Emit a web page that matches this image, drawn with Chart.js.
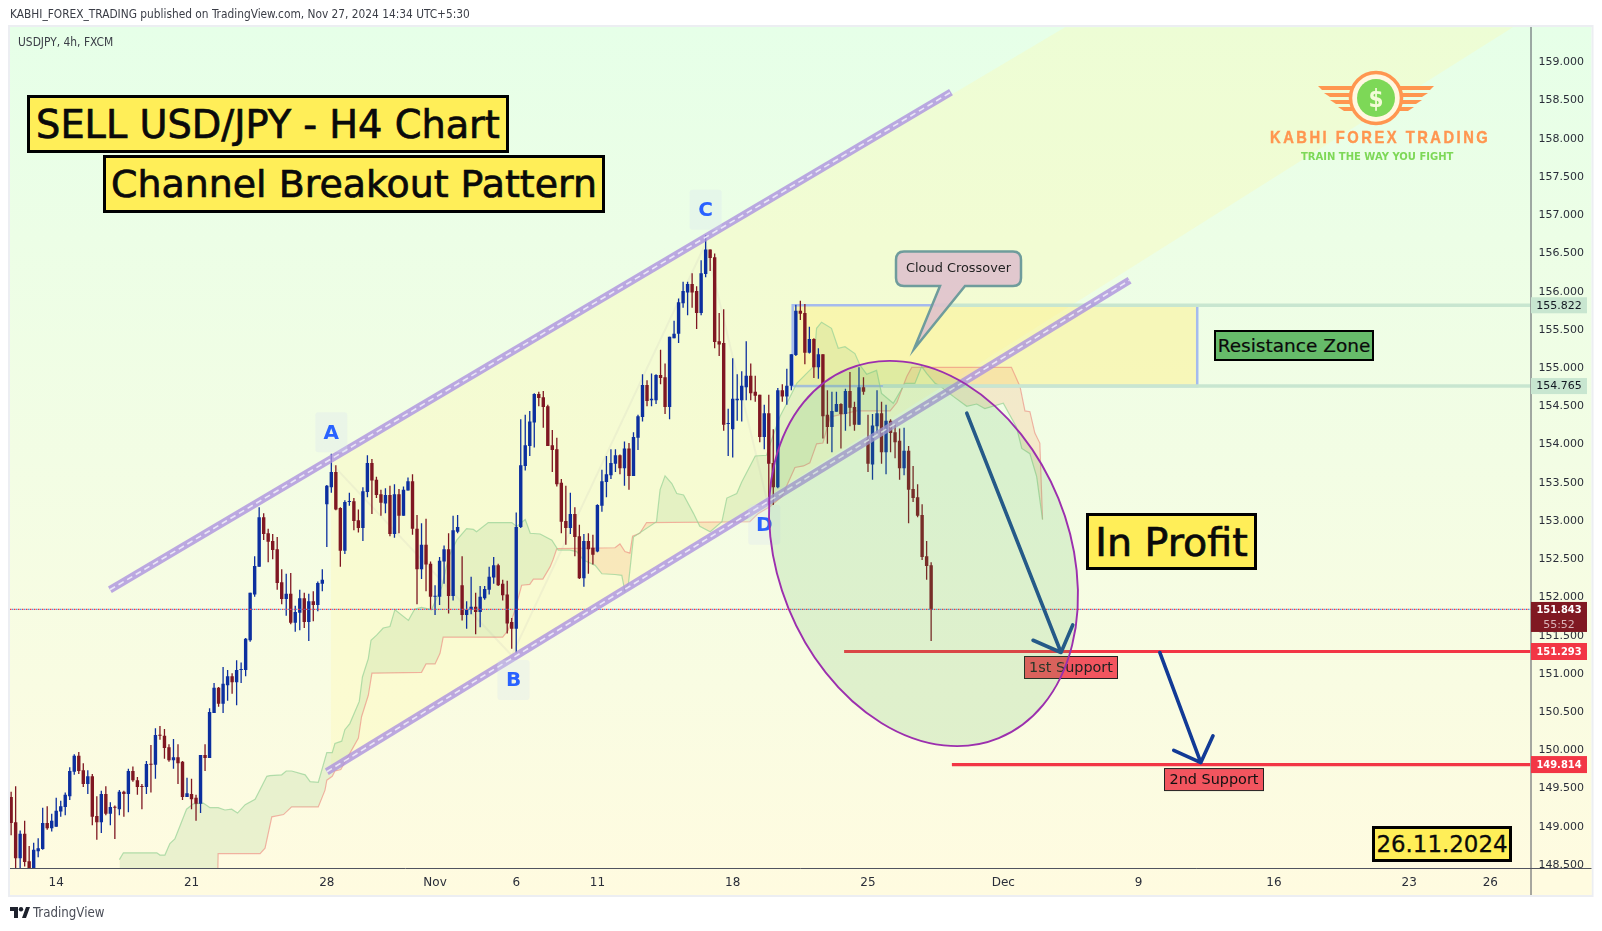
<!DOCTYPE html>
<html>
<head>
<meta charset="utf-8">
<title>USDJPY 4h</title>
<script src="https://cdn.jsdelivr.net/npm/chart.js@4"></script>
<style>
    html, body { margin: 0; padding: 0; background: #fff; width: 1602px; height: 931px; overflow: hidden; }
    body { font-family: "DejaVu Sans", sans-serif; font-stretch: condensed; color: #131722; }
    canvas { position: absolute; left: 0; top: 0; }
    .txt { position: absolute; white-space: nowrap; }
    .box { position: absolute; box-sizing: border-box; display: flex; align-items: center; justify-content: center; white-space: nowrap; color: #0a0a0a; background: #ffee58; border: 3.5px solid #000; font-stretch: normal; -webkit-text-stroke: .7px #0a0a0a; }
    svg { position: absolute; }
</style>
</head>
<body>
<canvas id="chart" width="1602" height="931"></canvas>

<div class="txt" style="left:10px;top:7px;font-size:11.8px;color:#3a3d46">KABHI_FOREX_TRADING published on TradingView.com, Nov 27, 2024 14:34 UTC+5:30</div>
<div class="txt" style="left:18px;top:35px;font-size:11.9px;color:#3a3d46">USDJPY, 4h, FXCM</div>

<div class="box" style="left:27px;top:95px;width:482px;height:58px;font-size:38.3px">SELL USD/JPY - H4 Chart</div>
<div class="box" style="left:103px;top:155px;width:502px;height:58px;font-size:37.9px">Channel Breakout Pattern</div>
<div class="box" style="left:1086px;top:513px;width:171px;height:57px;font-size:39.6px">In Profit</div>
<div class="box" style="left:1372px;top:826px;width:140px;height:36px;font-size:22.9px;border-width:3px;-webkit-text-stroke:.3px #0a0a0a">26.11.2024</div>
<div class="box" style="left:1214px;top:330px;width:160px;height:31px;font-size:18.5px;background:#66bb6a;border-width:2.5px;-webkit-text-stroke:.2px #0a0a0a">Resistance Zone</div>

<svg style="left:1300px;top:66px" width="160" height="66" viewBox="0 0 160 66">
    <g fill="#ff9650">
        <polygon points="18,20 52,20 52,24 22,24"/>
        <polygon points="24,27 52,27 52,31 30,31"/>
        <polygon points="30,34 54,34 54,38 36,38"/>
        <polygon points="38,41 58,41 58,45 44,45"/>
        <polygon points="134,20 100,20 100,24 130,24"/>
        <polygon points="128,27 100,27 100,31 122,31"/>
        <polygon points="122,34 98,34 98,38 116,38"/>
        <polygon points="114,41 94,41 94,45 108,45"/>
    </g>
    <circle cx="76" cy="32" r="25.5" fill="#fff8e0" stroke="#ff9650" stroke-width="3.5"/>
    <circle cx="76" cy="32" r="19" fill="#7dd857"/>
    <text x="76" y="41" text-anchor="middle" font-family="DejaVu Sans" font-weight="bold" font-size="24" fill="#f3fbd8">$</text>
</svg>
<div class="txt" style="left:1270px;top:128px;font-size:17px;font-weight:bold;font-family:'Liberation Sans';letter-spacing:2.9px;transform:scaleX(.866);transform-origin:left center;-webkit-text-stroke:.4px #ff9650;color:#ff9650">KABHI FOREX TRADING</div>
<div class="txt" style="left:1301px;top:151px;font-size:10px;font-weight:bold;font-family:'DejaVu Sans';font-stretch:normal;letter-spacing:0;color:#7dd857">TRAIN THE WAY YOU FIGHT</div>

<svg style="left:10px;top:906px" width="20" height="14" viewBox="0 0 20 14">
    <path d="M0 1h8v11H4V5H0z M16 1h4l-4 11h-4z" fill="#1e222d"/><circle cx="11" cy="3.2" r="2.2" fill="#1e222d"/>
</svg>
<div class="txt" style="left:33px;top:905px;font-size:13.2px;color:#4a4d57">TradingView</div>

<script>
const opens = [
    149.39,149.06,148.59,148.91,148.55,148.40,148.68,148.71,149.05,148.98,
    149.00,149.20,149.26,149.40,149.72,149.93,149.74,149.56,149.66,149.14,
    149.06,149.43,149.17,149.26,149.23,149.46,149.43,149.73,149.61,149.53,
    149.52,149.82,149.81,150.20,150.19,150.04,149.87,149.91,149.85,149.39,
    149.43,149.38,149.30,149.94,149.90,150.49,150.82,150.61,150.85,150.97,
    150.89,151.05,151.05,151.44,152.04,152.40,153.05,152.84,152.74,152.63,
    152.20,151.98,152.05,151.67,151.80,151.99,151.68,151.95,151.90,152.18,
    153.22,153.44,153.64,153.17,152.61,153.25,153.26,153.01,152.91,153.38,
    153.76,153.54,153.35,153.23,153.34,152.83,153.35,153.07,153.40,153.52,
    152.90,152.37,152.69,152.44,152.01,152.01,152.47,152.63,152.02,152.86,
    152.16,151.77,151.84,151.88,151.81,151.99,152.10,152.26,152.42,152.18,
    152.04,151.68,151.59,152.92,153.72,153.98,154.29,154.66,154.62,154.50,
    153.99,153.94,153.50,153.00,152.91,153.09,152.80,152.25,152.74,152.65,
    152.60,153.20,153.51,153.60,153.75,153.86,153.69,153.95,153.59,154.09,
    154.36,154.78,154.58,154.58,154.91,154.88,154.49,155.39,155.45,155.85,
    155.99,156.10,156.01,155.72,156.23,156.55,156.45,155.35,155.33,154.27,
    154.20,154.58,154.58,154.75,154.90,154.69,154.65,154.10,154.41,153.76,
    153.44,154.71,154.63,154.77,155.17,155.75,155.72,155.20,155.38,155.01,
    155.18,154.39,154.23,154.43,154.53,154.40,154.70,154.49,154.26,154.75,
    154.07,153.74,154.24,154.41,153.90,154.31,154.16,154.05,153.69,153.92,
    153.42,153.31,153.08,152.54,152.42
];
const highs = [
    149.46,149.53,148.95,149.08,148.75,148.79,148.85,149.25,149.27,149.17,
    149.38,149.34,149.45,149.78,149.95,149.98,149.83,149.74,149.69,149.40,
    149.47,149.53,149.32,149.28,149.48,149.47,149.76,149.79,149.65,149.56,
    149.86,150.07,150.29,150.32,150.28,150.08,150.15,150.08,149.86,149.64,
    149.63,149.42,149.94,150.08,150.55,150.88,150.83,151.09,151.05,151.01,
    151.18,151.15,151.47,152.06,152.54,153.18,153.10,152.90,152.83,152.79,
    152.37,152.31,152.32,151.89,152.10,152.06,152.05,152.08,152.21,152.37,
    153.47,153.88,153.73,153.18,153.27,153.37,153.30,153.15,153.44,153.86,
    153.81,153.58,153.41,153.43,153.46,153.48,153.42,153.45,153.57,153.61,
    153.08,152.97,153.03,152.47,152.16,152.53,152.68,152.84,153.07,153.08,
    152.54,151.95,152.27,152.06,152.15,152.15,152.40,152.53,152.44,152.23,
    152.22,151.73,153.11,154.33,154.39,154.44,154.67,154.69,154.70,154.52,
    154.19,154.09,153.55,153.46,153.37,153.18,152.95,152.83,152.84,152.82,
    153.22,153.67,153.85,153.94,153.94,153.87,154.04,154.02,154.16,154.39,
    154.92,154.84,154.93,154.92,155.24,155.06,155.41,155.62,155.91,156.13,
    156.13,156.24,156.07,156.41,156.74,156.55,156.50,155.72,155.77,154.47,
    155.13,154.92,154.96,155.35,155.06,154.90,154.65,154.52,154.65,154.20,
    154.74,154.79,154.99,155.18,155.83,155.88,155.84,155.54,155.39,155.26,
    155.18,154.71,154.69,154.69,154.54,154.73,154.95,154.56,155.01,154.88,
    154.39,154.40,154.71,154.56,154.52,154.33,154.26,154.21,154.22,153.98,
    153.72,153.48,153.22,152.74,152.46
];
const lows = [
    148.89,148.40,148.46,148.48,148.38,148.38,148.60,148.70,148.96,148.94,
    149.00,149.13,149.15,149.35,149.68,149.69,149.52,149.43,149.02,148.83,
    148.92,149.15,149.02,148.84,149.15,149.13,149.19,149.59,149.42,149.23,
    149.43,149.45,149.63,150.14,149.89,149.85,149.76,149.56,149.35,149.39,
    149.23,149.08,149.18,149.73,149.90,150.49,150.57,150.49,150.65,150.74,
    150.59,150.88,150.97,151.42,152.01,152.40,152.75,152.46,152.50,152.10,
    151.91,151.76,151.65,151.55,151.57,151.60,151.43,151.69,151.82,152.08,
    152.66,153.37,153.14,152.40,152.57,153.20,152.88,152.85,152.74,153.31,
    153.09,153.30,153.07,153.10,152.80,152.78,152.84,153.07,153.40,152.82,
    151.91,152.24,152.08,151.84,151.77,151.90,152.18,151.79,151.96,152.84,
    151.70,151.59,151.78,151.52,151.61,151.97,152.04,152.18,152.15,151.96,
    151.53,151.33,151.28,152.91,153.66,153.85,153.96,154.50,154.22,153.98,
    153.64,153.45,152.84,152.69,152.83,152.54,152.24,152.14,152.31,152.43,
    152.59,153.12,153.31,153.55,153.64,153.61,153.46,153.41,153.59,153.93,
    154.30,154.50,154.50,154.53,154.79,154.40,154.33,155.39,155.33,155.79,
    155.69,155.79,155.51,155.69,156.19,156.27,155.26,155.16,154.18,153.85,
    153.83,154.31,154.30,154.58,154.58,154.56,154.03,153.94,153.21,153.21,
    153.43,154.56,154.52,154.71,155.16,155.63,155.05,155.19,154.87,154.86,
    154.08,154.01,153.90,154.43,153.95,154.18,154.24,154.18,154.26,154.65,
    153.64,153.54,154.15,153.75,153.61,153.90,153.82,153.54,153.60,152.97,
    153.25,153.05,152.49,152.23,151.43
];
const closes = [
    149.05,148.59,148.91,148.54,148.40,148.70,148.72,149.05,148.98,149.08,
    149.21,149.27,149.42,149.73,149.93,149.73,149.56,149.66,149.13,149.06,
    149.43,149.17,149.26,149.25,149.46,149.43,149.73,149.61,149.52,149.52,
    149.82,149.81,150.20,150.19,150.03,149.87,149.91,149.83,149.39,149.44,
    149.36,149.30,149.94,149.90,150.50,150.82,150.61,150.87,150.97,150.89,
    151.05,151.06,151.46,152.06,152.41,153.05,152.83,152.73,152.62,152.19,
    151.98,152.05,151.67,151.81,151.99,151.68,151.95,151.90,152.19,152.23,
    153.46,153.64,153.15,152.61,153.25,153.26,153.00,152.91,153.39,153.76,
    153.53,153.34,153.24,153.34,152.83,153.35,153.07,153.41,153.52,152.90,
    152.37,152.69,152.43,152.01,152.02,152.48,152.63,152.02,152.88,152.92,
    151.77,151.84,151.88,151.81,152.01,152.11,152.27,152.42,152.16,152.03,
    151.66,151.59,152.92,153.73,153.99,154.30,154.66,154.61,154.49,153.98,
    153.93,153.48,152.99,152.91,153.09,152.79,152.25,152.74,152.63,152.56,
    153.21,153.52,153.61,153.76,153.86,153.69,153.95,153.59,154.10,154.37,
    154.78,154.57,154.60,154.91,154.87,154.49,155.41,155.45,155.86,156.01,
    156.10,155.99,155.72,156.24,156.55,156.44,155.34,155.31,154.26,154.28,
    154.60,154.60,154.77,154.90,154.67,154.64,154.10,154.41,153.75,153.44,
    154.71,154.63,154.77,155.18,155.75,155.71,155.20,155.38,155.01,155.18,
    154.37,154.23,154.44,154.53,154.40,154.70,154.48,154.26,154.75,154.69,
    153.75,154.25,154.41,153.90,154.31,154.15,154.03,153.69,153.92,153.41,
    153.30,153.07,152.53,152.41,151.84
];

// ichimoku cloud edges, [bar, price]
const spanA = [
    [24,148.57],[24.9,148.66],[32.3,148.66],[33,148.63],[34.1,148.63],[35.2,148.78],[36.3,148.84],[37.5,149.02],
    [38.9,149.23],[40.4,149.30],[42.6,149.31],[44.1,149.25],[45.9,149.25],[47.4,149.22],[48.9,149.23],[50.2,149.18],
    [51.9,149.29],[54.1,149.36],[56.7,149.66],[57.4,149.67],[60,149.68],[61,149.73],[62.2,149.73],[65.2,149.68],
    [66.3,149.59],[68.1,149.58],[70,149.97],[71.2,149.97],[71.8,150.09],[73.3,150.12],[74,150.27],[75.1,150.35],
    [77.2,150.64],[77.9,150.96],[79.2,151.20],[79.8,151.44],[81.1,151.51],[82.5,151.60],[84,151.62],[85.1,151.84],
    [88.1,151.70],[89.5,151.85],[91,151.87],[93.2,151.84],[95.5,152.14],[97,152.53],[98.8,152.75],[101,152.90],
    [102.5,152.89],[103.2,152.86],[105.8,152.98],[111,152.98],[112.1,152.93],[114,153.02],[115.1,152.84],[117.3,152.83],
    [119.9,152.75],[121.3,152.62],[123.9,152.62],[125.4,152.60],[126.9,152.49],[129.5,152.42],[131,152.31],[133.9,152.30],
    [135.4,152.29],[136.1,152.08],[136.9,152.19],[138,152.79],[143.1,152.99],[143.9,153.41],[145,153.59],[146.5,153.49],
    [147.6,153.36],[149.1,153.34],[151.3,153.10],[152.7,152.93],[155,152.86],[157.6,152.99],[158.7,153.30],[160.9,153.36],
    [162,153.51],[165,153.85],[167.5,153.86],[168.6,154.06],[170.5,154.37],[172,154.54],[174.2,154.80],[177.9,155.02],
    [178.6,155.52],[179.7,155.60],[181.9,155.52],[183.4,155.26],[184.9,155.28],[187.1,155.19],[188.2,155.04],[189.7,154.92],
    [191.9,154.97],[193,154.67],[195.6,154.54],[198.2,154.80],[200.4,154.80],[201.9,155.02],[203,154.93],[204.9,154.80],
    [205.9,154.77],[208.9,154.63],[211.9,154.50],[214.1,154.53],[215.9,154.47],[220,154.54],[222.9,154.23],[224.1,153.95],
    [225.9,153.88],[227.4,153.58],[228.7,153.02]
];
const spanB = [
    [24,148.30],[45.8,148.30],[45.9,148.65],[55.2,148.65],[56.3,148.72],[57.8,149.13],[60.4,149.16],[62.2,149.26],
    [68.1,149.26],[69.6,149.48],[70,149.61],[71.2,149.66],[71.8,149.73],[73.1,149.75],[75.1,149.96],[77,150.16],
    [77.7,150.44],[79.2,150.72],[80,151.01],[91,151.02],[92,151.13],[94,151.13],[95.1,151.27],[95.8,151.48],
    [109,151.48],[110.2,151.57],[111.7,151.83],[113.2,152.16],[115,152.17],[115.8,152.24],[117.9,152.24],[119.5,152.40],
    [120.2,152.50],[121,152.64],[133.9,152.65],[135,152.70],[136.1,152.60],[137.2,152.58],[137.8,152.80],[139.4,152.84],
    [140.9,152.98],[163.8,152.99],[165.7,153.10],[168.3,153.19],[170.9,153.32],[173.8,153.70],[175.7,153.72],[177.1,153.76],
    [178.6,154.01],[180,154.02],[181.6,154.36],[187.5,154.44],[194.9,154.44],[196.4,154.55],[198.6,154.89],[199.7,155.01],
    [221.8,155.01],[223.7,154.76],[224.8,154.44],[225.9,154.43],[227,154.15],[228.1,154.02],[228.7,153.02]
];

const channelUpper = [[21.9,152.10],[208.4,158.61]];
const channelLower = [[70,149.72],[248,156.15]];
const patternBand = [[70.9,153.76],[70.9,149.72],[333,159.46],[233.7,159.46]];
const patternZigzag = [[70.9,153.76],[111,151.24],[154,156.63],[168.2,153.12]];
const arrowOne = [[211.9,154.41],[232.8,151.28],[226.6,151.44],[232.8,151.28],[235.4,151.64]];
const arrowTwo = [[254.7,151.28],[263.8,149.84],[257.8,150.0],[263.8,149.84],[266.5,150.19]];
const ellipseAxis = [[185.6,154.99],[219,150.16]];

const lastPrice = 151.843;
const support1 = 151.293;
const support2 = 149.814;
const zoneTop = 155.822;
const zoneBottom = 154.765;
const zoneBars = [173.3, 263];
const zoneTopStart = 205;
const zoneBottomStart = 193.3;
const support1Start = 184.7;
const support2Start = 208.6;

const xTickBars = [10,40,70,94,112,130,160,190,220,250,280,310,328];
const xTickLabels = ['14','21','28','Nov','6','11','18','25','Dec','9','16','23','26'];
const yTicks = [148.5,149,149.5,150,150.5,151,151.5,152,152.5,153,153.5,154,154.5,155,155.5,156,156.5,157,157.5,158,158.5,159];
const pointLetters = [['A',71,154.16],['B',111.4,150.92],['C',154,157.07],['D',167,152.95]];

const fontFam = '"DejaVu Sans", sans-serif';
const upColor = '#0c2f9f';
const downColor = '#7f1722';
const candleColors = closes.map((c, i) => c >= opens[i] ? upColor : downColor);

const toXY = arr => arr.map(p => ({ x: p[0], y: p[1] }));
const bars = opens.map((_, i) => i);
const xMax = 336.9;

function polyPath(ctx, x, y, pts) {
    ctx.beginPath();
    pts.forEach((p, i) => {
        if (i == 0) ctx.moveTo(x.getPixelForValue(p[0]), y.getPixelForValue(p[1]));
        else ctx.lineTo(x.getPixelForValue(p[0]), y.getPixelForValue(p[1]));
    });
}

function tag(ctx, text, cx, cy, w, h, bg, border, color, font, stretch) {
    ctx.save();
    ctx.fillStyle = bg;
    ctx.fillRect(cx - w / 2, cy - h / 2, w, h);
    if (border) {
        ctx.strokeStyle = border;
        ctx.lineWidth = 1;
        ctx.strokeRect(cx - w / 2, cy - h / 2, w, h);
    }
    ctx.fillStyle = color;
    ctx.font = font;
    ctx.fontStretch = stretch || 'normal';
    ctx.textAlign = 'center';
    ctx.textBaseline = 'middle';
    ctx.fillText(text, cx, cy + 0.5);
    ctx.restore();
}

// background, drawings behind candles, drawings on top and the price labels
const drawings = {
    id: 'drawings',
    beforeDraw(chart) {
        const { ctx, chartArea: a } = chart;
        const g = ctx.createLinearGradient(0, a.top, 0, 895);
        g.addColorStop(0, '#e6ffe8');
        g.addColorStop(1, '#fffbe0');
        ctx.save();
        ctx.fillStyle = g;
        ctx.fillRect(a.left, a.top, 1591.5 - a.left, 895 - a.top);
        ctx.strokeStyle = '#eceef2';
        ctx.lineWidth = 2;
        ctx.strokeRect(a.left - 1, a.top - 1, 1593.5 - a.left, 897 - a.top);
        ctx.restore();
    },
    beforeDatasetsDraw(chart) {
        const { ctx, chartArea: a, scales: { x, y } } = chart;
        ctx.save();
        ctx.beginPath();
        ctx.rect(a.left, a.top, a.right - a.left, a.bottom - a.top);
        ctx.clip();

        polyPath(ctx, x, y, patternBand);
        ctx.closePath();
        ctx.fillStyle = 'rgba(255,250,170,0.3)';
        ctx.fill();

        polyPath(ctx, x, y, patternZigzag);
        ctx.strokeStyle = 'rgba(200,200,190,0.18)';
        ctx.lineWidth = 2;
        ctx.stroke();

        const zx0 = x.getPixelForValue(zoneBars[0]), zx1 = x.getPixelForValue(zoneBars[1]);
        const zy0 = y.getPixelForValue(zoneTop), zy1 = y.getPixelForValue(zoneBottom);
        ctx.fillStyle = 'rgba(255,240,130,0.45)';
        ctx.fillRect(zx0, zy0, zx1 - zx0, zy1 - zy0);
        ctx.strokeStyle = '#a5bbee';
        ctx.lineWidth = 2.5;
        ctx.strokeRect(zx0, zy0, zx1 - zx0, zy1 - zy0);
        ctx.restore();
    },
    afterDatasetsDraw(chart) {
        const { ctx, chartArea: a, scales: { x, y } } = chart;

        pointLetters.forEach(l => {
            const cx = x.getPixelForValue(l[1]), cy = y.getPixelForValue(l[2]);
            ctx.save();
            ctx.fillStyle = 'rgba(215,225,240,0.28)';
            ctx.beginPath();
            ctx.roundRect(cx - 16, cy - 20, 32, 40, 3);
            ctx.fill();
            ctx.fillStyle = '#2962ff';
            ctx.font = 'bold 20px ' + fontFam;
            ctx.textAlign = 'center';
            ctx.textBaseline = 'middle';
            ctx.fillText(l[0], cx, cy + 1);
            ctx.restore();
        });

        tag(ctx, '1st Support', 1071, y.getPixelForValue(support1) + 16, 93, 22, '#f2555f', '#222', '#222', '14.4px ' + fontFam);
        tag(ctx, '2nd Support', 1214, y.getPixelForValue(support2) + 15, 99, 22, '#f2555f', '#222', '#111', '14.4px ' + fontFam);

        // tilted ellipse through the two ends of its long axis
        const ax = x.getPixelForValue(ellipseAxis[0][0]), ay = y.getPixelForValue(ellipseAxis[0][1]);
        const bx = x.getPixelForValue(ellipseAxis[1][0]), by = y.getPixelForValue(ellipseAxis[1][1]);
        const rot = Math.atan2(by - ay, bx - ax);
        const major = Math.hypot(bx - ax, by - ay) / 2;
        ctx.save();
        ctx.beginPath();
        ctx.ellipse((ax + bx) / 2, (ay + by) / 2, major, 145.7, rot, 0, Math.PI * 2);
        ctx.fillStyle = 'rgba(76,175,80,0.15)';
        ctx.fill();
        ctx.strokeStyle = '#9c2fae';
        ctx.lineWidth = 1.9;
        ctx.stroke();
        ctx.restore();

        // callout
        ctx.save();
        ctx.beginPath();
        ctx.moveTo(904, 251.5);
        ctx.lineTo(1013, 251.5);
        ctx.quadraticCurveTo(1021, 251.5, 1021, 260);
        ctx.lineTo(1021, 278);
        ctx.quadraticCurveTo(1021, 286, 1013, 286);
        ctx.lineTo(965, 286);
        ctx.lineTo(914, 349);
        ctx.lineTo(940, 286);
        ctx.lineTo(904, 286);
        ctx.quadraticCurveTo(896, 286, 896, 278);
        ctx.lineTo(896, 260);
        ctx.quadraticCurveTo(896, 251.5, 904, 251.5);
        ctx.closePath();
        ctx.fillStyle = 'rgba(222,190,205,0.85)';
        ctx.fill();
        ctx.strokeStyle = '#6f9c9c';
        ctx.lineWidth = 2.5;
        ctx.stroke();
        ctx.fillStyle = '#222';
        ctx.font = '12.9px ' + fontFam;
        ctx.textAlign = 'center';
        ctx.textBaseline = 'middle';
        ctx.fillText('Cloud Crossover', 958.5, 269);
        ctx.restore();
    },
    afterDraw(chart) {
        const { ctx, chartArea: a, scales: { y } } = chart;
        // the last tick label is cut by the time axis
        ctx.save();
        ctx.fillStyle = '#fffbe0';
        ctx.fillRect(a.right, a.bottom, 1591.5 - a.right, 895 - a.bottom);
        ctx.strokeStyle = '#50535e';
        ctx.lineWidth = 1;
        ctx.beginPath();
        ctx.moveTo(a.left, a.bottom + 0.5);
        ctx.lineTo(1591.5, a.bottom + 0.5);
        ctx.moveTo(a.right + 0.5, a.top);
        ctx.lineTo(a.right + 0.5, 895);
        ctx.stroke();
        ctx.restore();

        const lx = a.right + 28.5;
        const tagFont = 'bold 11px ' + fontFam;
        const plainFont = '11px ' + fontFam;
        tag(ctx, zoneTop.toFixed(3), lx, y.getPixelForValue(zoneTop), 56, 16, '#c8e6d0', null, '#131722', plainFont);
        tag(ctx, zoneBottom.toFixed(3), lx, y.getPixelForValue(zoneBottom), 56, 16, '#c8e6d0', null, '#131722', plainFont);
        tag(ctx, support1.toFixed(3), lx, y.getPixelForValue(support1), 56, 17, '#f23645', null, '#fff', tagFont, 'condensed');
        tag(ctx, support2.toFixed(3), lx, y.getPixelForValue(support2), 56, 17, '#f23645', null, '#fff', tagFont, 'condensed');
        const ly = y.getPixelForValue(lastPrice);
        tag(ctx, lastPrice.toFixed(3), lx, ly + 0.5, 56, 16, '#801922', null, '#fff', tagFont, 'condensed');
        tag(ctx, '55:52', lx, ly + 15, 56, 15, '#801922', null, '#d9b4b8', plainFont);
    }
};

new Chart(document.getElementById('chart').getContext('2d'), {
    type: 'bar',
    plugins: [drawings],
    data: {
        datasets: [
            {
                type: 'line', order: 1, data: toXY(channelUpper), borderColor: 'rgba(240,236,250,0.9)', borderWidth: 1.6,
                borderDash: [6, 4], pointRadius: 0
            },
            {
                type: 'line', order: 2, data: toXY(channelUpper), borderColor: 'rgba(172,146,222,0.8)', borderWidth: 7.5,
                borderCapStyle: 'butt', pointRadius: 0
            },
            {
                type: 'line', order: 1, data: toXY(channelLower), borderColor: 'rgba(240,236,250,0.9)', borderWidth: 1.6,
                borderDash: [6, 4], pointRadius: 0
            },
            {
                type: 'line', order: 2, data: toXY(channelLower), borderColor: 'rgba(172,146,222,0.8)', borderWidth: 7.5,
                borderCapStyle: 'butt', pointRadius: 0
            },
            {
                type: 'line', order: 0, data: toXY(arrowOne), borderColor: '#1f4c92', borderWidth: 3.6, pointRadius: 0,
                borderCapStyle: 'round', borderJoinStyle: 'round'
            },
            {
                type: 'line', order: 0, data: toXY(arrowTwo), borderColor: '#123a96', borderWidth: 3.6, pointRadius: 0,
                borderCapStyle: 'round', borderJoinStyle: 'round'
            },
            {
                type: 'line', order: 3, data: [{ x: support1Start, y: support1 }, { x: xMax, y: support1 }],
                borderColor: '#f23645', borderWidth: 3.2, pointRadius: 0
            },
            {
                type: 'line', order: 3, data: [{ x: support2Start, y: support2 }, { x: xMax, y: support2 }],
                borderColor: '#f23645', borderWidth: 3.2, pointRadius: 0
            },
            {
                type: 'line', order: 3, data: [{ x: zoneTopStart, y: zoneTop }, { x: xMax, y: zoneTop }],
                borderColor: '#c8e6d0', borderWidth: 3.5, pointRadius: 0
            },
            {
                type: 'line', order: 3, data: [{ x: zoneBottomStart, y: zoneBottom }, { x: xMax, y: zoneBottom }],
                borderColor: '#c8e6d0', borderWidth: 3.5, pointRadius: 0
            },
            {
                type: 'line', order: 4, data: [{ x: -0.25, y: lastPrice }, { x: xMax, y: lastPrice }],
                borderColor: '#f23645', borderWidth: 1.2, borderDash: [1.5, 2.5], pointRadius: 0
            },
            {
                type: 'line', order: 4, data: [{ x: -0.25, y: lastPrice }, { x: xMax, y: lastPrice }],
                borderColor: 'rgba(42,125,225,0.8)', borderWidth: 1.2, borderDash: [1.5, 2.5], borderDashOffset: 2, pointRadius: 0
            },
            {
                label: 'body', order: 5, data: bars.map(i => ({ x: i, y: [opens[i], closes[i]] })),
                backgroundColor: candleColors, barThickness: 3.4, minBarLength: 1, grouped: false, inflateAmount: 0
            },
            {
                label: 'wick', order: 6, data: bars.map(i => ({ x: i, y: [lows[i], highs[i]] })),
                backgroundColor: candleColors, barThickness: 1.3, grouped: false, inflateAmount: 0
            },
            {
                type: 'line', order: 8, label: 'span A', data: toXY(spanA), borderColor: 'rgba(150,210,150,0.7)', borderWidth: 1.2,
                pointRadius: 0, tension: 0,
                fill: { target: '+1', above: 'rgba(165,205,140,0.22)', below: 'rgba(250,165,110,0.22)' }
            },
            {
                type: 'line', order: 9, label: 'span B', data: toXY(spanB), borderColor: 'rgba(240,130,125,0.6)', borderWidth: 1.2,
                pointRadius: 0, tension: 0
            }
        ]
    },
    options: {
        responsive: false,
        devicePixelRatio: 1,
        animation: false,
        parsing: { xAxisKey: 'x', yAxisKey: 'y' },
        layout: { padding: { left: 10, top: 27, right: 10.5, bottom: 36 } },
        plugins: { legend: { display: false }, tooltip: { enabled: false } },
        scales: {
            x: {
                type: 'linear',
                offset: false,
                min: -0.25,
                max: xMax,
                grid: { display: false, drawTicks: false },
                border: { display: false },
                afterBuildTicks: axis => { axis.ticks = xTickBars.map(v => ({ value: v })); },
                afterFit: axis => { axis.height = 27; },
                ticks: {
                    autoSkip: false,
                    maxRotation: 0,
                    padding: 8,
                    color: '#2a2e39',
                    font: { family: fontFam, size: 12 },
                    callback: (v, i) => xTickLabels[i]
                }
            },
            y: {
                type: 'linear',
                position: 'right',
                min: 148.461,
                max: 159.462,
                grid: { display: false, drawTicks: false },
                border: { display: false },
                afterBuildTicks: axis => { axis.ticks = yTicks.map(v => ({ value: v })); },
                afterFit: axis => { axis.width = 61; },
                ticks: {
                    autoSkip: false,
                    padding: 8,
                    color: '#2a2e39',
                    font: { family: fontFam, size: 11 },
                    callback: v => v.toFixed(3)
                }
            }
        }
    }
});
</script>
</body>
</html>
